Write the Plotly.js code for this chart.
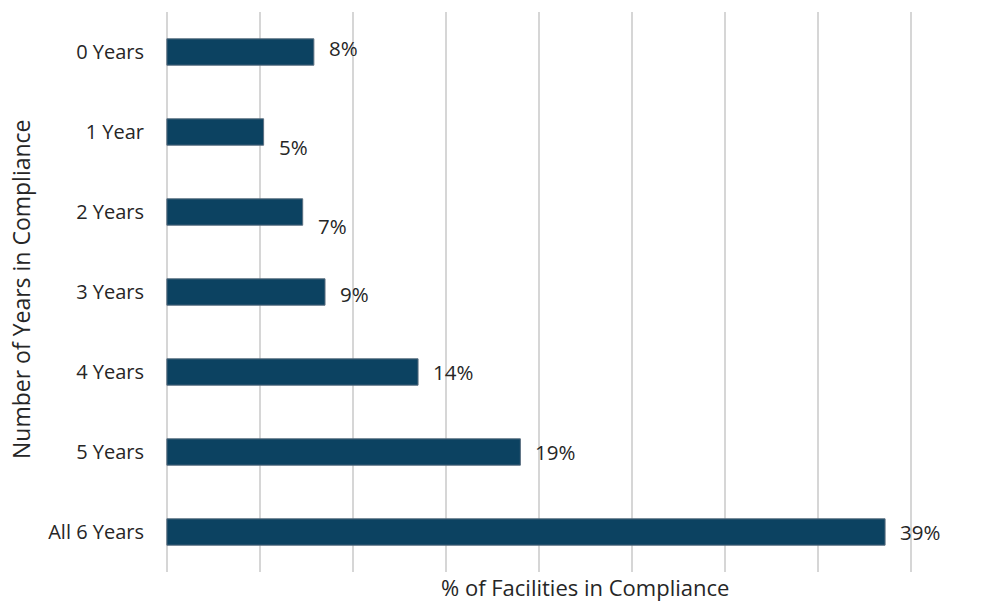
<!DOCTYPE html>
<html>
<head>
<meta charset="utf-8">
<script src="https://cdn.plot.ly/plotly-3.0.1.min.js"></script>
<style>html,body{margin:0;padding:0;background:#fff;}#chart{width:994px;height:603px;}</style>
</head>
<body>
<div id="chart"></div>
<script>
const categories = ["0 Years", "1 Year", "2 Years", "3 Years", "4 Years", "5 Years", "All 6 Years"];
const percentValues = [7.9, 5.2, 7.3, 8.5, 13.5, 19.0, 38.6];
const labelYShift = [4, -15, -14, -2, 0, 0, 0];

const FONT = "'Open Sans', 'Noto Sans', sans-serif";
const TXT = "#262626";

const trace = {
  type: "bar",
  orientation: "h",
  y: categories,
  x: percentValues,
  width: 0.33,
  marker: { color: "#0c4261", line: { color: "#5b6f80", width: 1 } },
  hoverinfo: "x+y"
};

const annotations = percentValues.map((v, i) => ({
  x: v, y: categories[i], xref: "x", yref: "y",
  text: Math.round(v) + "%",
  showarrow: false, xanchor: "left", xshift: 13, yshift: labelYShift[i],
  font: { family: FONT, size: 20.5, color: TXT }
}));

// plot area spans x 165..913 (range -0.1..40.1), y 12..572
annotations.push({
  xref: "paper", yref: "paper", x: (585 - 165) / (913 - 165), y: 0,
  yshift: -15, text: "% of Facilities in Compliance", showarrow: false,
  xanchor: "center", yanchor: "middle", borderpad: 0,
  font: { family: FONT, size: 22, color: TXT }
});

annotations.push({
  xref: "paper", yref: "paper", x: (21 - 165) / (913 - 165), y: 1 - (289 - 12) / (572 - 12),
  text: "Number of Years in Compliance", showarrow: false, textangle: -90,
  xanchor: "center", yanchor: "middle",
  font: { family: FONT, size: 23, color: TXT }
});

const layout = {
  width: 994, height: 603,
  margin: { l: 165, r: 81, t: 12, b: 31 },
  paper_bgcolor: "#fff", plot_bgcolor: "#fff",
  showlegend: false,
  xaxis: {
    range: [-0.1, 40.1], tick0: 0, dtick: 5, showgrid: true, gridcolor: "#d6d6d6", gridwidth: 2,
    showticklabels: false, zeroline: false, showline: false, fixedrange: true
  },
  yaxis: {
    type: "category", categoryorder: "array", categoryarray: categories,
    autorange: "reversed", showgrid: false, zeroline: false, showline: false,
    ticks: "outside", ticklen: 16, tickcolor: "rgba(0,0,0,0)",
    tickfont: { family: FONT, size: 20, color: TXT },
    automargin: false, fixedrange: true
  },
  annotations: annotations
};

Plotly.newPlot("chart", [trace], layout, { displayModeBar: false, staticPlot: true });
</script>
</body>
</html>
